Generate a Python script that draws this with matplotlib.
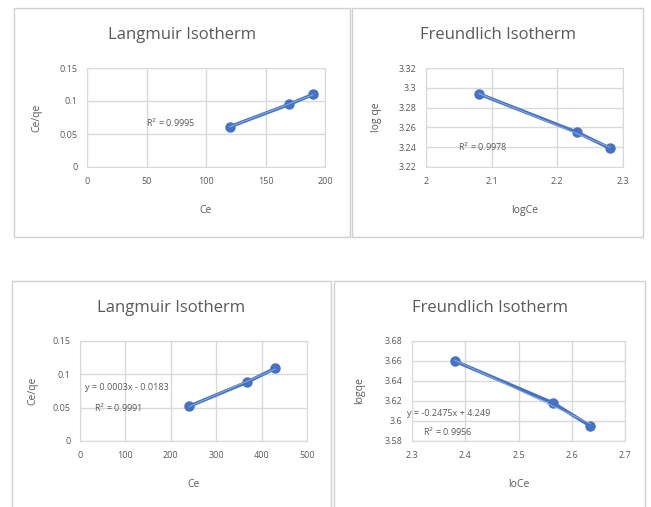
import numpy as np
import matplotlib.pyplot as plt
from matplotlib.patches import Rectangle

# values
lang1_ce = [120, 170, 190]
lang1_ceqe = [0.061, 0.095, 0.110]
freu1_logce = [2.08, 2.23, 2.28]
freu1_logqe = [3.294, 3.255, 3.239]
lang2_ce = [240, 367, 430]
lang2_ceqe = [0.052, 0.088, 0.109]
freu2_logce = [2.38, 2.565, 2.635]
freu2_logqe = [3.660, 3.618, 3.595]

W, H = 651, 507
fig = plt.figure(figsize=(W / 100, H / 100), dpi=100)
plt.rcParams['font.family'] = ['Open Sans', 'DejaVu Sans']

BLUE = '#4472C4'
GREY = '#595959'
GRID = '#D9D9D9'


def px_axes(x0, y0, x1, y1):
    return fig.add_axes([x0 / W, 1 - y1 / H, (x1 - x0) / W, (y1 - y0) / H])


def frame(x0, y0, x1, y1, title, ty):
    fig.patches.append(Rectangle((x0 / W, 1 - y1 / H), (x1 - x0) / W, (y1 - y0) / H,
                                 transform=fig.transFigure, fill=False,
                                 edgecolor='#D0D0D0', linewidth=1))
    fig.text((x0 + x1) / 2 / W, 1 - ty / H, title, fontsize=12, color=GREY,
             ha='center', va='center')


def panel(box, x, y, xlim, xticks, ylim, yticks, xlabel, ylabel, notes, xlp=12, ylp=10):
    x0, y0, x1, y1 = box
    ax = px_axes(x0, y0, x1, y1)
    ax.plot(x, y, color=BLUE, lw=2.5, marker='o', ms=6.5, zorder=3)
    k, b = np.polyfit(x, y, 1)
    xs = np.array([min(x), max(x)])
    ax.plot(xs, k * xs + b, color='#8FAADC', lw=0.7, zorder=4)
    ax.set_xlim(*xlim)
    ax.set_ylim(*ylim)
    ax.set_xticks(xticks)
    ax.set_yticks(yticks)
    ax.set_xticklabels([f'{t:g}' for t in xticks])
    ax.set_yticklabels([f'{t:g}' for t in yticks])
    ax.grid(True, color=GRID, lw=1)
    ax.set_axisbelow(True)
    for s in ax.spines.values():
        s.set_color(GRID)
    ax.tick_params(length=0, labelsize=6.5, colors=GREY, pad=7)
    ax.set_xlabel(xlabel, fontsize=7.5, color=GREY, labelpad=xlp)
    ax.set_ylabel(ylabel, fontsize=7.5, color=GREY, labelpad=ylp)
    for tx, ty, s in notes:
        ax.text(tx, ty, s, fontsize=6.5, color=GREY, ha='center', va='center', zorder=5)
    return ax


frame(14, 8, 350, 237, 'Langmuir Isotherm', 35)
frame(352, 8, 643, 237, 'Freundlich Isotherm', 35)
frame(12, 281, 331, 520, 'Langmuir Isotherm', 308)
frame(334, 281, 645, 520, 'Freundlich Isotherm', 308)

panel((87, 68, 325, 167), lang1_ce, lang1_ceqe,
      (0, 200), [0, 50, 100, 150, 200], (0, 0.15), [0, 0.05, 0.1, 0.15],
      'Ce', 'Ce/qe', [(70, 0.0667, 'R$^2$ = 0.9995')], xlp=14, ylp=12)

panel((426, 68, 623, 167), freu1_logce, freu1_logqe,
      (2, 2.3), [2, 2.1, 2.2, 2.3], (3.22, 3.32), [3.22, 3.24, 3.26, 3.28, 3.3, 3.32],
      'logCe', 'log qe', [(2.087, 3.240, 'R$^2$ = 0.9978')], xlp=14, ylp=12)

panel((80, 341, 307, 441), lang2_ce, lang2_ceqe,
      (0, 500), [0, 100, 200, 300, 400, 500], (0, 0.15), [0, 0.05, 0.1, 0.15],
      'Ce', 'Ce/qe', [(103, 0.0795, 'y = 0.0003x - 0.0183'),
                      (84, 0.0495, 'R$^2$ = 0.9991')], xlp=14, ylp=10)

panel((412, 341, 625, 441), freu2_logce, freu2_logqe,
      (2.3, 2.7), [2.3, 2.4, 2.5, 2.6, 2.7], (3.58, 3.68), [3.58, 3.6, 3.62, 3.64, 3.66, 3.68],
      'loCe', 'logqe', [(2.369, 3.608, 'y = -0.2475x + 4.249'),
                        (2.367, 3.589, 'R$^2$ = 0.9956')], xlp=14, ylp=14)

fig.savefig('out.png', dpi=100)
